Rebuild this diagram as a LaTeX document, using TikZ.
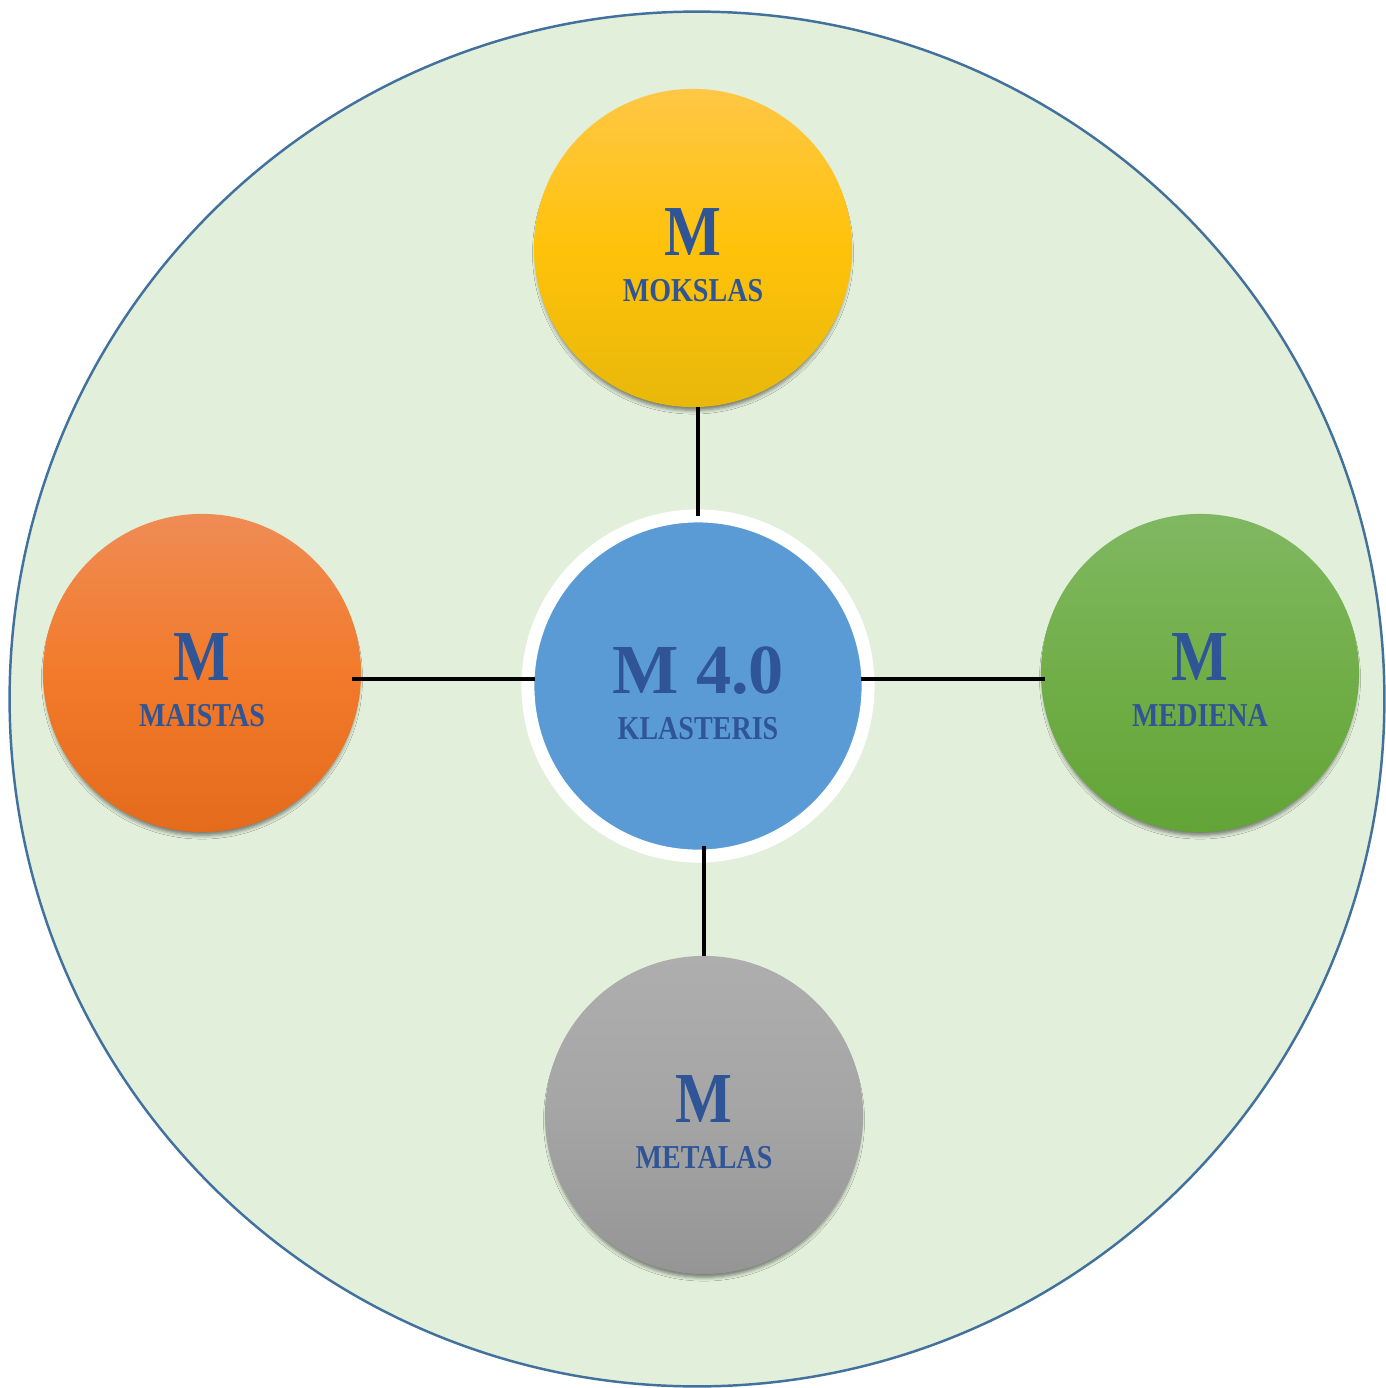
\documentclass[tikz,border=0pt]{standalone}
\usepackage{fontspec}
\setmainfont{Liberation Serif}
\newfontfamily\narrowserif[FakeStretch=0.84]{Liberation Serif}
\usetikzlibrary{shadows.blur}

\definecolor{bgGreen}{HTML}{E2EFDA}
\definecolor{rimBlue}{HTML}{41719C}
\definecolor{txtBlue}{HTML}{2F5597}
\definecolor{hubBlue}{HTML}{5B9BD5}

\tikzset{
	sat/.style={circle, minimum size=3.18cm, inner sep=0pt, outer sep=0pt,
		blur shadow={shadow xshift=0pt, shadow yshift=-1.6pt, shadow scale=0.985, shadow blur radius=1.1pt, shadow opacity=50}},
	bigM/.style={text=txtBlue, font=\narrowserif\bfseries\fontsize{20.4}{24}\selectfont, anchor=base, inner sep=0pt},
	hubM/.style={text=txtBlue, font=\bfseries\fontsize{20}{24}\selectfont, anchor=base, inner sep=0pt},
	tag/.style={text=txtBlue, font=\narrowserif\bfseries\fontsize{9.5}{11}\selectfont, anchor=base, inner sep=0pt},
	link/.style={line width=0.9pt, black}
}

\begin{document}
\begin{tikzpicture}[x=0.01cm, y=-0.01cm]
	\useasboundingbox (0,0) rectangle (1386,1388);
	
	%big background disc
	\draw[fill=bgGreen, draw=rimBlue, line width=0.7pt] (697,699) circle [radius=6.87cm];
	
	%the four M circles
	\node[sat, top color={rgb,255:red,255;green,199;blue,69}, bottom color={rgb,255:red,232;green,184;blue,10}, middle color={rgb,255:red,255;green,194;blue,10}] (mokslas) at (693,248) {};
	\node[sat, top color={rgb,255:red,239;green,140;blue,85}, bottom color={rgb,255:red,229;green,107;blue,28}, middle color={rgb,255:red,242;green,122;blue,42}] (maistas) at (202,673) {};
	\node[sat, top color={rgb,255:red,128;green,184;blue,98}, bottom color={rgb,255:red,98;green,164;blue,54}, middle color={rgb,255:red,113;green,174;blue,72}] (mediena) at (1200,673) {};
	\node[sat, top color={rgb,255:red,174;green,174;blue,174}, bottom color={rgb,255:red,149;green,149;blue,149}, middle color={rgb,255:red,165;green,165;blue,165}] (metalas) at (704,1115) {};
	
	%cluster in the middle
	\node[circle, fill=hubBlue, draw=white, line width=0.13cm, minimum size=3.40cm, inner sep=0pt, outer sep=0pt] (klasteris) at (698,686) {};
	
	%links
	\draw[link] (mokslas.south -| klasteris.north) -- (klasteris.north);
	\draw[link, shorten <=-0.09cm, shorten >=-0.07cm] ([yshift=-0.06cm]maistas.east) -- ([yshift=-0.06cm]maistas.east -| klasteris.west);
	\draw[link, shorten <=-0.07cm, shorten >=-0.04cm] ([yshift=-0.06cm]mediena.west -| klasteris.east) -- ([yshift=-0.06cm]mediena.west);
	\draw[link, shorten <=-0.1cm] (klasteris.south -| metalas.north) -- (metalas.north);
	
	%labels
	\foreach \n/\t in {mokslas/MOKSLAS, maistas/MAISTAS, mediena/MEDIENA, metalas/METALAS}{
		\node[bigM] (\n-m) at ([yshift=-0.075cm]\n.center) {M};
		\node[tag] (\n-t) at ([yshift=-0.53cm]\n.center) {\t};
	}
	\node[hubM] (klasteris-m) at ([yshift=-0.07cm]klasteris.center) {M 4.0};
	\node[tag] (klasteris-t) at ([yshift=-0.53cm]klasteris.center) {KLASTERIS};
\end{tikzpicture}
\end{document}
